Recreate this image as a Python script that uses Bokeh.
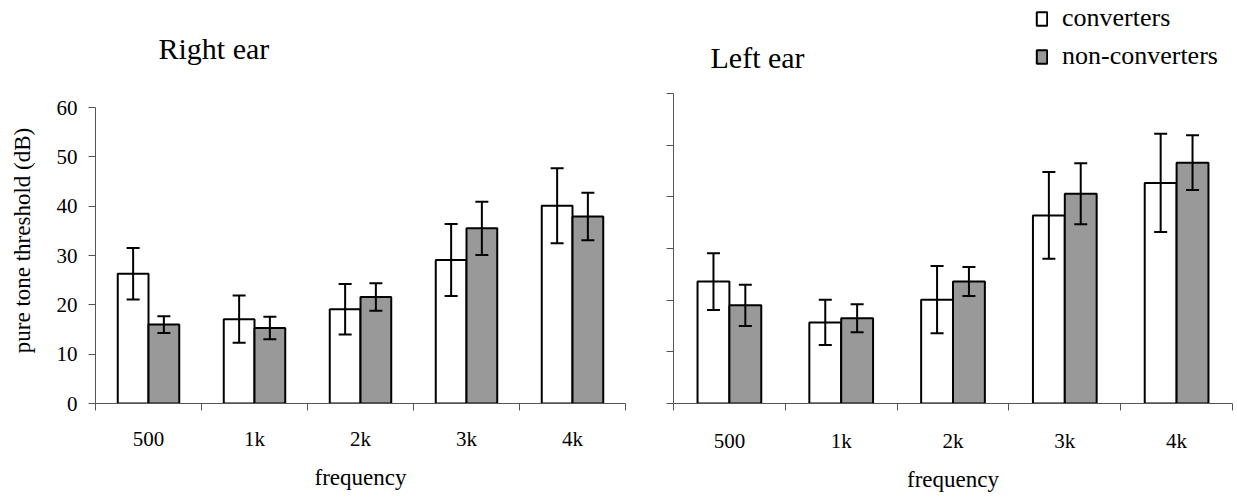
import math
from bokeh.plotting import figure
from bokeh.models import (ColumnDataSource, Range1d, FixedTicker, Whisker, TeeHead,
                          Legend, LegendItem, Label)
from bokeh.layouts import row
from bokeh.embed import file_html
from bokeh.resources import INLINE

# ---------------- data ----------------
freqs = ["500", "1k", "2k", "3k", "4k"]

right_conv = [26.3, 17.1, 19.1, 29.1, 40.1]
right_conv_err = [5.2, 4.8, 5.1, 7.3, 7.6]
right_non = [16.0, 15.3, 21.6, 35.5, 37.9]
right_non_err = [1.7, 2.3, 2.8, 5.4, 4.8]

left_conv = [23.6, 15.7, 20.1, 36.4, 42.7]
left_conv_err = [5.5, 4.4, 6.5, 8.4, 9.5]
left_non = [19.0, 16.5, 23.6, 40.6, 46.6]
left_non_err = [4.0, 2.7, 2.8, 5.9, 5.3]

y_ticks = [0, 10, 20, 30, 40, 50, 60]

FONT = "Liberation Serif"
AXIS_COLOR = "#555555"
GREY = "#999999"
HEIGHT = 497
MB_BOTTOM = 94
FRAME_H = HEIGHT - MB_BOTTOM   # frame spans the full height above the x axis
LABEL_W = 40


def make_panel(conv, conv_err, non, non_err, title, title_x, title_y,
               width, mb_left, mb_right, axis_px,
               bar_w, show_y_labels, tick_standoff):
    n = len(freqs)
    centers = [i + 0.5 for i in range(n)]
    y_top = 60 * FRAME_H / axis_px
    p = figure(width=width, height=HEIGHT, output_backend="svg",
               toolbar_location=None, x_range=Range1d(0, n),
               y_range=Range1d(0, y_top),
               min_border_left=mb_left, min_border_right=mb_right,
               min_border_top=0, min_border_bottom=MB_BOTTOM)
    p.outline_line_color = None
    p.grid.visible = False
    p.background_fill_color = "white"

    src_c = ColumnDataSource(dict(
        x=[c - bar_w / 2 for c in centers], top=conv,
        upper=[v + e for v, e in zip(conv, conv_err)],
        lower=[v - e for v, e in zip(conv, conv_err)]))
    src_n = ColumnDataSource(dict(
        x=[c + bar_w / 2 for c in centers], top=non,
        upper=[v + e for v, e in zip(non, non_err)],
        lower=[v - e for v, e in zip(non, non_err)]))

    r_c = p.vbar(x="x", top="top", bottom=0, width=bar_w, source=src_c,
                 fill_color="white", line_color="black", line_width=2)
    r_n = p.vbar(x="x", top="top", bottom=0, width=bar_w, source=src_n,
                 fill_color=GREY, line_color="black", line_width=2)

    for src in (src_c, src_n):
        w = Whisker(base="x", upper="upper", lower="lower", source=src,
                    line_color="black", line_width=2, level="annotation",
                    upper_head=TeeHead(size=13, line_color="black", line_width=2),
                    lower_head=TeeHead(size=13, line_color="black", line_width=2))
        p.add_layout(w)

    # x axis: labels at centres, tick marks at boundaries (minor ticks)
    xa = p.xaxis[0]
    xa.ticker = FixedTicker(ticks=centers, minor_ticks=list(range(n + 1)))
    xa.major_label_overrides = {c: f for c, f in zip(centers, freqs)}
    xa.major_tick_line_color = None
    xa.major_tick_out = 7
    xa.major_tick_in = 0
    xa.minor_tick_out = 7
    xa.minor_tick_in = 0
    xa.minor_tick_line_color = AXIS_COLOR
    xa.axis_line_color = AXIS_COLOR
    xa.major_label_text_font = FONT
    xa.major_label_text_font_size = "21px"
    xa.major_label_text_color = "black"
    xa.major_label_standoff = tick_standoff
    xa.axis_label = "frequency"
    xa.axis_label_text_font = FONT
    xa.axis_label_text_font_size = "23px"
    xa.axis_label_text_font_style = "normal"
    xa.axis_label_text_color = "black"
    xa.axis_label_standoff = 11

    ya = p.yaxis[0]
    ya.ticker = FixedTicker(ticks=y_ticks, minor_ticks=[])
    ya.bounds = (0, 60)
    ya.major_tick_out = 7
    ya.major_tick_in = 0
    ya.major_tick_line_color = AXIS_COLOR
    ya.minor_tick_line_color = None
    ya.axis_line_color = AXIS_COLOR
    if show_y_labels:
        ya.major_label_text_font = FONT
        ya.major_label_text_font_size = "21px"
        ya.major_label_text_color = "black"
        ya.major_label_standoff = 11
    else:
        ya.major_label_overrides = {t: "" for t in y_ticks}

    # panel title, placed inside the (tall) frame in screen units
    p.add_layout(Label(x=title_x, y=title_y, x_units="screen", y_units="screen",
                       text=title, text_font=FONT, text_font_size="30px",
                       text_color="black", text_baseline="alphabetic"))
    return p, r_c, r_n


# narrow strip carrying the shared y-axis title
pl = figure(width=LABEL_W, height=HEIGHT, output_backend="svg",
            toolbar_location=None, x_range=Range1d(0, 1), y_range=Range1d(0, 1),
            x_axis_type=None, y_axis_type=None,
            min_border_left=0, min_border_right=0, min_border_top=0,
            min_border_bottom=MB_BOTTOM)
pl.outline_line_color = None
pl.add_layout(Label(x=22, y=FRAME_H - 240, x_units="screen", y_units="screen",
                    text="pure tone threshold (dB)", angle=math.pi / 2,
                    text_align="center", text_baseline="middle",
                    text_font=FONT, text_font_size="23px", text_color="black"))

# left-hand panel: Right ear (0-60 spans 296 px)
p1, _, _ = make_panel(right_conv, right_conv_err, right_non, right_non_err,
                      "Right ear", 63, FRAME_H - 48,
                      width=640 - LABEL_W, mb_left=95 - LABEL_W, mb_right=15,
                      axis_px=296, bar_w=0.29, show_y_labels=True,
                      tick_standoff=16)

# right-hand panel: Left ear (0-60 spans 310 px)
p2, rc, rn = make_panel(left_conv, left_conv_err, left_non, left_non_err,
                        "Left ear", 37, FRAME_H - 57,
                        width=597, mb_left=33, mb_right=5, axis_px=310,
                        bar_w=0.285, show_y_labels=False, tick_standoff=18)

legend = Legend(items=[LegendItem(label="converters", renderers=[rc]),
                       LegendItem(label="non-converters", renderers=[rn])],
                location=(362, FRAME_H - 71), orientation="vertical",
                label_text_font=FONT, label_text_font_size="26px",
                label_text_color="black", glyph_width=13, glyph_height=17,
                label_standoff=14, spacing=8, padding=0, margin=0,
                border_line_color=None, background_fill_alpha=0)
p2.add_layout(legend)

layout = row(pl, p1, p2)
open("out.html", "w").write(file_html(layout, INLINE))
